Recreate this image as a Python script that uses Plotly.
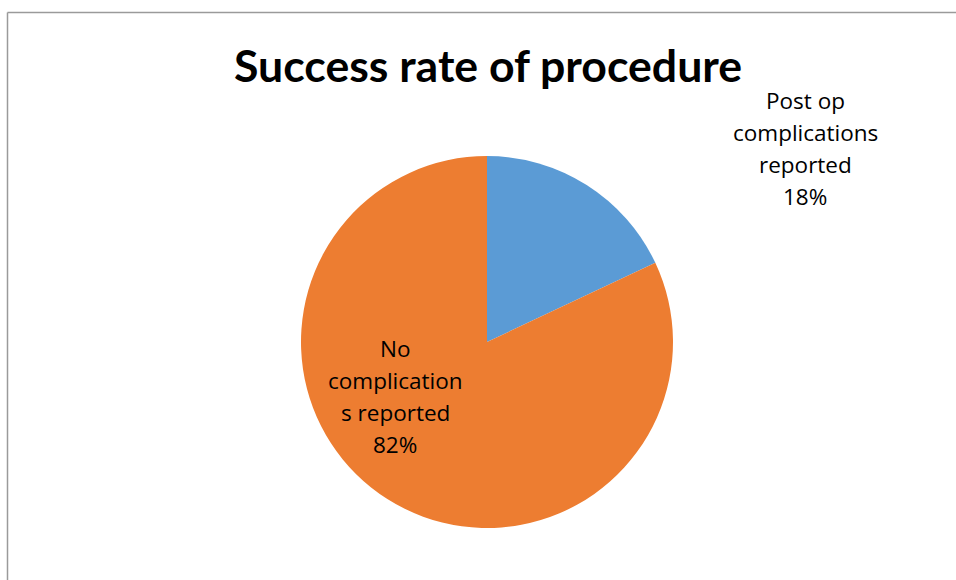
import plotly.graph_objects as go

W, H = 956, 580

title = "Success rate of procedure"
labels = ["Post op complications reported", "No complications reported"]
values = [18, 82]
colors = ["#5B9BD5", "#ED7D31"]
# wrapped label lines as shown in the chart
label_lines = [
    ["Post op", "complications", "reported"],
    ["No", "complication", "s reported"],
]
label_pos = [(805, 100), (395, 348)]  # pixel centre of first line
line_gap = 32.3

cx, cy, r = 487, 342, 186

fig = go.Figure(go.Pie(
    labels=labels, values=values, sort=False, direction="clockwise", rotation=0,
    marker=dict(colors=colors, line=dict(width=0)),
    textinfo="none", hoverinfo="label+percent", showlegend=False,
    domain=dict(x=[(cx - r) / W, (cx + r) / W], y=[(H - cy - r) / H, (H - cy + r) / H]),
))

def px(x):
    return x / W

def py(y):
    return 1 - y / H

ann = []
total = sum(values)
for lines, v, (x0, y0) in zip(label_lines, values, label_pos):
    allines = lines + [f"{round(100 * v / total)}%"]
    for i, t in enumerate(allines):
        ann.append(dict(text=t, x=px(x0), y=py(y0 + i * line_gap), xref="paper", yref="paper",
                        xanchor="center", yanchor="middle", showarrow=False,
                        font=dict(family="Open Sans", size=22.5, color="#000000")))
ann.append(dict(text=f"<b>{title}</b>", x=px(488), y=py(64), xref="paper", yref="paper",
                xanchor="center", yanchor="middle", showarrow=False,
                font=dict(family="Lato", size=44.6, color="#000000")))

shapes = [
    dict(type="line", xref="paper", yref="paper", x0=px(7.5), x1=px(W + 5), y0=py(12.5), y1=py(12.5),
         line=dict(color="#9a9a9a", width=1.5)),
    dict(type="line", xref="paper", yref="paper", x0=px(7.5), x1=px(7.5), y0=py(12.5), y1=py(H + 5),
         line=dict(color="#9a9a9a", width=1.5)),
]

fig.update_layout(width=W, height=H, margin=dict(l=0, r=0, t=0, b=0),
                  paper_bgcolor="white", plot_bgcolor="white",
                  annotations=ann, shapes=shapes)
fig.write_html("out.html", config={"displayModeBar": False},
               post_script="document.body.style.margin='0';")
